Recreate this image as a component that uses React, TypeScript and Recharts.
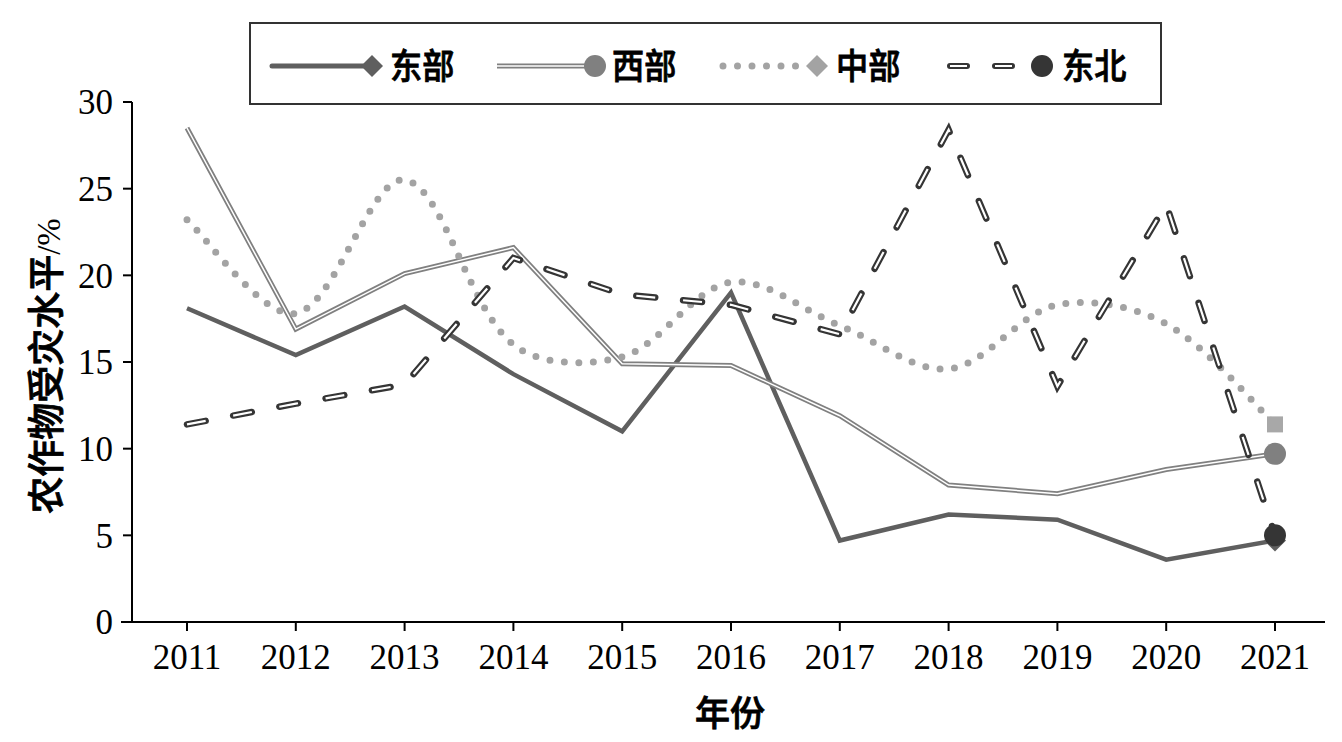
import React from 'react';
import { LineChart, Line, XAxis, YAxis } from 'recharts';

const YEARS = ['2011', '2012', '2013', '2014', '2015', '2016', '2017', '2018', '2019', '2020', '2021'];
const EAST = [18.1, 15.4, 18.2, 14.3, 11.0, 19.0, 4.7, 6.2, 5.9, 3.6, 4.7];
const WEST = [28.5, 16.9, 20.1, 21.6, 14.9, 14.8, 11.9, 7.9, 7.4, 8.8, 9.7];
const CENTRAL = [23.2, 17.8, 25.5, 16.0, 15.3, 19.6, 17.1, 14.6, 18.3, 17.2, 11.4];
const NORTHEAST = [11.4, 12.6, 13.7, 21.0, 18.9, 18.3, 16.6, 28.4, 13.6, 24.1, 5.0];
const Y_TICKS = [0, 5, 10, 15, 20, 25, 30];

const data = YEARS.map((year, i) => ({
  year,
  east: EAST[i],
  west: WEST[i],
  central: CENTRAL[i],
  northeast: NORTHEAST[i],
}));

const LAST = YEARS.length - 1;
const C_EAST = '#5f5f5f';
const C_WEST = '#808080';
const C_CENTRAL = '#a3a3a3';
const C_NE = '#353535';
const SERIF = '"Liberation Serif", "Times New Roman", serif';
const CJK = '"Noto Sans CJK SC", sans-serif';

// Excel-style smoothed line: bezier handles scaled by neighbouring segment lengths
const smoothCurve: any = (context: any) => {
  let pts: number[][] = [];
  const dist = (a: number[], b: number[]) => Math.hypot(b[0] - a[0], b[1] - a[1]) || 1;
  return {
    areaStart() {},
    areaEnd() {},
    lineStart() {
      pts = [];
    },
    lineEnd() {
      const n = pts.length;
      if (!n) return;
      context.moveTo(pts[0][0], pts[0][1]);
      for (let i = 0; i < n - 1; i++) {
        const p0 = pts[Math.max(i - 1, 0)];
        const p1 = pts[i];
        const p2 = pts[i + 1];
        const p3 = pts[Math.min(i + 2, n - 1)];
        const d01 = i === 0 ? dist(p1, p2) : dist(p0, p1);
        const d12 = dist(p1, p2);
        const d23 = i + 2 > n - 1 ? dist(p1, p2) : dist(p2, p3);
        const k1 = ((1 / 3) * d12) / (d01 + d12);
        const k2 = ((1 / 3) * d12) / (d12 + d23);
        context.bezierCurveTo(
          p1[0] + (p2[0] - p0[0]) * k1,
          p1[1] + (p2[1] - p0[1]) * k1,
          p2[0] - (p3[0] - p1[0]) * k2,
          p2[1] - (p3[1] - p1[1]) * k2,
          p2[0],
          p2[1]
        );
      }
    },
    point(x: number, y: number) {
      pts.push([+x, +y]);
    },
  };
};

// only the last point of each series carries a marker
const endDot = (shape: 'diamond' | 'circle' | 'square', fill: string, r: number) => (props: any) => {
  const { cx, cy, index } = props;
  if (index !== LAST) return <g key={`d-${index}`} />;
  if (shape === 'circle') return <circle key={`d-${index}`} cx={cx} cy={cy} r={r} fill={fill} />;
  if (shape === 'square')
    return <rect key={`d-${index}`} x={cx - r} y={cy - r} width={r * 2} height={r * 2} fill={fill} />;
  return (
    <path key={`d-${index}`} d={`M${cx},${cy - r}L${cx + r},${cy}L${cx},${cy + r}L${cx - r},${cy}Z`} fill={fill} />
  );
};

const diamond = (x: number, y: number, r: number, fill: string) => (
  <path d={`M${x},${y - r}L${x + r},${y}L${x},${y + r}L${x - r},${y}Z`} fill={fill} />
);

const LegendBox = () => {
  const cy = 42;
  const txt = { fontFamily: CJK, fontSize: 35, fontWeight: 500, fill: '#000', stroke: '#000', strokeWidth: 0.8 } as const;
  const label = (x: number, s: string) => (
    <text transform={`translate(${x},${cy + 13}) scale(0.92,1)`} style={txt}>
      {s}
    </text>
  );
  return (
    <div
      style={{
        position: 'absolute',
        left: 249,
        top: 22,
        width: 909,
        height: 79,
        border: '2px solid #333',
        background: '#fff',
      }}
    >
      <svg width={909} height={79} style={{ display: 'block' }}>
        <line x1={21} y1={cy} x2={112} y2={cy} stroke={C_EAST} strokeWidth={5} strokeLinecap="round" />
        {diamond(121, cy, 11, C_EAST)}
        {label(139, '东部')}

        <line x1={246} y1={cy} x2={336} y2={cy} stroke={C_WEST} strokeWidth={5} />
        <line x1={246} y1={cy} x2={336} y2={cy} stroke="#fff" strokeWidth={1.5} />
        <circle cx={344} cy={cy} r={11} fill={C_WEST} />
        {label(361, '西部')}

        <line x1={472} y1={cy} x2={552} y2={cy} stroke={C_CENTRAL} strokeWidth={7} strokeDasharray="0 14.5" strokeLinecap="round" />
        {diamond(566, cy, 11, C_CENTRAL)}
        {label(585, '中部')}

        <line x1={699} y1={cy} x2={762} y2={cy} stroke={C_NE} strokeWidth={6} strokeDasharray="17 28" strokeLinecap="round" />
        <line x1={699} y1={cy} x2={762} y2={cy} stroke="#fff" strokeWidth={2} strokeDasharray="17 28" />
        <circle cx={791} cy={cy} r={11} fill={C_NE} />
        {label(811, '东北')}
      </svg>
    </div>
  );
};

export default function App() {
  return (
    <div style={{ position: 'absolute', left: 0, top: 0, width: 1342, height: 742, background: '#fff' }}>
      <LineChart width={1342} height={742} data={data} margin={{ top: 102, right: 17, left: 60, bottom: 60 }}>
        <XAxis
          dataKey="year"
          padding={{ left: 55, right: 50 }}
          height={60}
          tickSize={9}
          tickMargin={13}
          axisLine={{ stroke: '#000', strokeWidth: 2 }}
          tickLine={{ stroke: '#000', strokeWidth: 2 }}
          tick={{ fontFamily: SERIF, fontSize: 35, fill: '#000' }}
        />
        <YAxis
          domain={[0, 30]}
          ticks={Y_TICKS}
          width={72}
          tickSize={9}
          tickMargin={10}
          axisLine={{ stroke: '#000', strokeWidth: 2 }}
          tickLine={{ stroke: '#000', strokeWidth: 2 }}
          tick={{ fontFamily: SERIF, fontSize: 35, fill: '#000' }}
        />
        <Line dataKey="east" stroke={C_EAST} strokeWidth={4.5} dot={endDot('diamond', C_EAST, 11)} activeDot={false} isAnimationActive={false} />
        <Line dataKey="west" stroke={C_WEST} strokeWidth={5} dot={false} activeDot={false} isAnimationActive={false} />
        <Line dataKey="west" stroke="#fff" strokeWidth={1.5} dot={endDot('circle', C_WEST, 11)} activeDot={false} isAnimationActive={false} />
        <Line
          type={smoothCurve}
          dataKey="central"
          stroke={C_CENTRAL}
          strokeWidth={7}
          strokeDasharray="0 14.5"
          strokeLinecap="round"
          dot={endDot('square', '#a8a8a8', 8)}
          activeDot={false}
          isAnimationActive={false}
        />
        <Line dataKey="northeast" stroke={C_NE} strokeWidth={6.5} strokeDasharray="19 28" strokeLinecap="round" dot={false} activeDot={false} isAnimationActive={false} />
        <Line dataKey="northeast" stroke="#fff" strokeWidth={2.2} strokeDasharray="19 28" dot={endDot('circle', C_NE, 11)} activeDot={false} isAnimationActive={false} />
      </LineChart>
      {/* axis line runs a little past the y axis, as in the original */}
      <div style={{ position: 'absolute', left: 121, top: 621, width: 12, height: 2, background: '#000' }} />
      <LegendBox />
      <div
        style={{
          position: 'absolute',
          left: 44,
          top: 366,
          transform: 'translate(-50%, -50%) rotate(-90deg)',
          whiteSpace: 'nowrap',
          fontFamily: CJK,
          fontWeight: 500,
          fontSize: 37,
          WebkitTextStroke: '0.8px #000',
        }}
      >
        农作物受灾水平<span style={{ fontFamily: SERIF, fontWeight: 400, fontSize: 33, WebkitTextStroke: '0' }}>/%</span>
      </div>
      <div
        style={{
          position: 'absolute',
          left: 730,
          top: 710,
          transform: 'translate(-50%, -50%)',
          whiteSpace: 'nowrap',
          fontFamily: CJK,
          fontWeight: 500,
          fontSize: 35,
          WebkitTextStroke: '0.8px #000',
        }}
      >
        年份
      </div>
    </div>
  );
}
